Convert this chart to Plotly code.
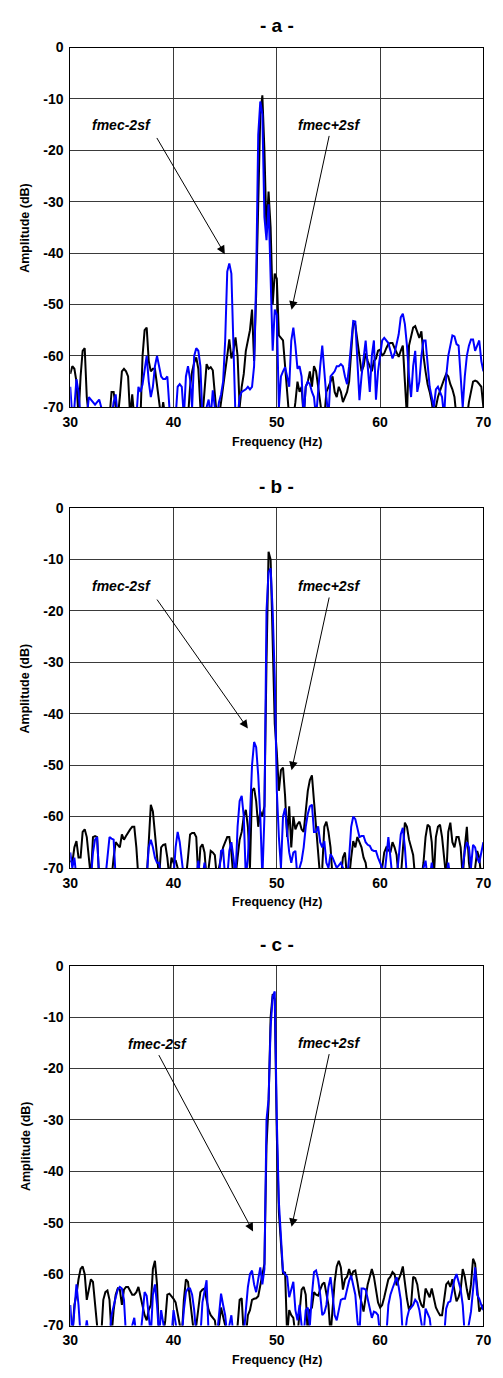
import numpy as np
import plotly.graph_objects as go

# ---------------- data ----------------
freq = np.round(np.arange(30.0, 70.0001, 0.2), 1)  # Hz, 0.2 Hz bins

x_ticks = [30, 40, 50, 60, 70]
x_tick_labels = ["30", "40", "50", "60", "70"]
y_ticks = [0, -10, -20, -30, -40, -50, -60, -70]
y_tick_labels = ["0", "-10", "-20", "-30", "-40", "-50", "-60", "-70"]
panel_titles = ["- a -", "- b -", "- c -"]
label_left = "fmec-2sf"
label_right = "fmec+2sf"

a_black = [
    -63.5, -62, -62.5, -65, -72,
    -64, -59, -58.5, -68, -72,
    -72, -72, -72, -72, -72,
    -72, -72, -72, -72, -72,
    -67, -67, -70, -72, -68,
    -63, -62.5, -63, -64, -72,
    -67.5, -72, -72, -72, -72,
    -60, -55, -54.5, -61, -63,
    -62.5, -62.5, -65.5, -69, -72,
    -69, -72, -72, -72, -72,
    -72, -72, -72, -72, -72,
    -72, -72, -72, -66, -63,
    -61.3, -60.3, -62.5, -70, -72,
    -66, -61.6, -62.5, -62.2, -62.8,
    -67, -72, -72, -69, -66.5,
    -64, -60, -56.8, -60.5, -59,
    -56.4, -60, -70, -66, -63.5,
    -59, -57, -55, -51, -61,
    -48, -30, -13, -9.3, -20,
    -36, -28, -35, -50, -44,
    -45, -56, -56.5, -57, -62,
    -67, -72, -70, -72, -69,
    -65, -67, -66, -72, -66,
    -65, -63, -66, -62, -63,
    -66, -69, -72, -72, -67,
    -66, -65, -64, -67, -68,
    -66, -67, -69, -68, -67,
    -65, -60, -53.5, -54, -57,
    -60, -63, -62, -59.5, -61,
    -62, -63, -61, -60.5, -59,
    -58.8, -60, -59.5, -58.5, -57.7,
    -57.5, -57.5, -58.5, -59.5, -60.2,
    -59, -58, -65, -72, -58,
    -56, -54.5, -54.2, -55.5, -56.5,
    -55.2, -60, -63, -65.5, -67,
    -69, -72, -70, -68, -66.8,
    -65.5, -64.5, -63.5, -64, -65.5,
    -66.5, -68, -72, -72, -72,
    -72, -72, -72, -69, -67,
    -65, -64.8, -65, -65.5, -66,
    -70,
]

a_blue = [
    -66, -72, -70, -64.5, -67,
    -72, -72, -72, -72, -68,
    -68.5, -69, -69.5, -69, -68.5,
    -70, -72, -72, -72, -72,
    -72, -69, -67.5, -72, -72,
    -72, -72, -72, -72, -72,
    -72, -72, -72, -66, -67,
    -65.5, -63, -60, -65, -68,
    -66, -62, -60, -62, -64,
    -64.5, -64.5, -64, -70, -72,
    -72, -72, -66, -65.5, -66,
    -72, -64, -62, -64.5, -70,
    -60, -58.5, -59, -62, -72,
    -72, -70, -68.5, -72, -66.7,
    -70, -72, -69, -67.5, -65,
    -57, -43.6, -42, -44, -58,
    -72, -72, -68, -67, -66.8,
    -66.5, -66, -66.5, -66, -62,
    -45, -17, -10.5, -13, -33,
    -37.5, -30.5, -45, -59, -51,
    -52, -70, -64, -63, -62.2,
    -64, -66, -57, -54.5, -58,
    -62.5, -62, -64, -72, -66,
    -65, -65.5, -67, -68, -72,
    -66, -62, -58, -64, -68,
    -72, -64, -63.5, -63, -62,
    -62, -61.6, -62, -64, -65.5,
    -62, -57, -53.2, -53.3, -60,
    -68.6, -64, -60, -57, -62,
    -67, -60, -57, -68.5, -63,
    -60, -57, -56.5, -57, -57.5,
    -59, -60.5, -59.5, -57.5, -55.8,
    -52.5, -51.8, -53.8, -58, -64,
    -68, -62, -59, -67, -65,
    -60, -57, -57, -61, -66,
    -68, -70, -66.5, -66, -67,
    -68, -72, -64, -60, -57.7,
    -56, -56.2, -57.7, -58, -64,
    -70, -64, -60, -58, -56.8,
    -56.8, -59, -58, -57, -61,
    -63,
]

b_black = [
    -68.6, -69, -66, -64.8, -68,
    -68, -63, -62.5, -64, -69,
    -72, -64, -63.8, -64, -72,
    -72, -72, -72, -72, -72,
    -72, -68, -65, -65.5, -66,
    -63.5, -64.5, -63.8, -63, -62.5,
    -62, -62, -66, -72, -72,
    -72, -72, -72, -65, -57.7,
    -59, -63.5, -68, -72, -66,
    -65.5, -65.4, -68, -72, -68,
    -69, -68.5, -70, -72, -72,
    -72, -72, -68, -63.5, -63.2,
    -63.2, -64, -72, -66, -65.4,
    -67, -72, -70, -66.7, -67,
    -67.5, -72, -70, -68, -66,
    -65, -64, -64, -67, -72,
    -72, -68, -64.5, -63, -60,
    -58.7, -62, -70, -55, -54.5,
    -57, -62, -59, -60, -58,
    -30, -8.5, -10, -25, -42,
    -47.5, -55, -51, -50.5, -56,
    -64, -58, -66, -60, -62.5,
    -61.5, -61, -62.5, -63, -59,
    -55, -52.9, -52, -57, -62,
    -68, -72, -70, -62, -61,
    -63, -66, -72, -72, -72,
    -72, -72, -68, -67, -72,
    -72, -68, -64.8, -66, -64,
    -65, -66, -68, -69, -72,
    -72, -72, -72, -72, -72,
    -72, -70, -67, -66, -66.5,
    -67, -65, -66, -67.5, -72,
    -72, -66, -61.2, -62, -64.5,
    -66, -67.5, -72, -72, -72,
    -72, -69, -64, -61.6, -62,
    -65, -72, -64, -62, -61.6,
    -64, -68, -72, -63, -61.2,
    -65, -66, -64, -64, -66,
    -72, -66, -62, -69, -72,
    -72, -70, -66.7, -68, -72,
    -72,
]

b_blue = [
    -67, -70, -68, -72, -72,
    -72, -72, -72, -72, -72,
    -72, -67, -64.5, -64, -72,
    -72, -72, -72, -68, -64,
    -64.3, -64.5, -72, -72, -72,
    -72, -72, -72, -72, -72,
    -72, -72, -72, -72, -72,
    -72, -72, -72, -66, -64.5,
    -66, -68, -69, -69, -72,
    -72, -72, -72, -72, -72,
    -72, -66, -63, -65, -68,
    -72, -72, -72, -72, -72,
    -72, -72, -68.6, -72, -72,
    -69, -72, -72, -72, -72,
    -72, -72, -72, -66.7, -66.5,
    -72, -72, -66.7, -65, -68,
    -72, -62, -57, -56, -60,
    -72, -68, -60, -50, -45.5,
    -46.5, -52, -60, -72, -60,
    -20, -12.5, -11.7, -20, -33,
    -55, -64, -70, -60, -58.4,
    -63, -67, -69, -67, -66.7,
    -72, -70, -68.6, -66, -62,
    -59.5, -58, -57.7, -63, -63,
    -61.9, -65, -66, -64.8, -69,
    -70, -67.3, -68, -69, -70,
    -69.5, -69, -70, -72, -72,
    -68, -62, -60, -60.5, -62,
    -64, -63.8, -63.8, -65, -65.5,
    -65.7, -66.5, -66.7, -66.7, -68,
    -69, -70, -72, -68, -64,
    -68, -72, -72, -72, -68,
    -63.5, -62.2, -66, -72, -72,
    -72, -72, -72, -72, -72,
    -72, -70, -68.6, -72, -72,
    -69, -72, -72, -72, -72,
    -72, -72, -72, -69, -72,
    -72, -72, -72, -72, -72,
    -70, -66.7, -65, -66, -70,
    -65.5, -66, -68, -69, -67,
    -65,
]

c_black = [
    -70, -72, -66, -64, -61,
    -59, -58.5, -60, -65, -63,
    -61, -61.5, -66, -70, -72,
    -72, -65, -63.5, -63.2, -65,
    -72, -67, -64, -62.8, -63,
    -66, -63, -62.5, -62.5, -63.2,
    -64, -64, -63.5, -62.5, -64.5,
    -66.5, -68, -69, -67, -66,
    -59, -57.4, -62, -72, -72,
    -72, -69, -64, -63.8, -64.2,
    -64.8, -65.5, -67.5, -70, -72,
    -65, -61, -61.5, -65, -69,
    -72, -70, -67, -63.5, -63,
    -62.8, -65, -67, -68, -68.5,
    -69, -72, -70, -66.5, -68,
    -70, -72, -72, -72, -72,
    -72, -70, -65, -64.7, -72,
    -72, -68, -67, -65, -64.8,
    -64.7, -64.3, -62, -59.5, -58,
    -35, -27, -10, -5.5, -6.5,
    -33, -48, -54, -60, -59.6,
    -72, -67, -68, -68.5, -72,
    -72, -68, -63, -62.5, -64,
    -72, -67, -66.5, -63.5, -64,
    -64.2, -63, -62, -61.6, -63.5,
    -66, -72, -67, -61.5, -58.5,
    -57.4, -58.7, -63, -61, -60.5,
    -59, -60.5, -59.5, -59.3, -61.5,
    -64, -65.5, -67.3, -64.5, -62,
    -60.5, -59, -60.5, -63.5, -65.5,
    -66.5, -66, -64.5, -62.5, -61,
    -60.5, -59.6, -60, -62.2, -61,
    -60, -58.5, -62, -64.8, -67,
    -66, -60.5, -60.8, -62, -64.8,
    -66, -66.5, -62.8, -63.8, -64.5,
    -62.8, -65, -66.5, -67.3, -68,
    -68, -64.8, -62, -61.5, -62.5,
    -61, -63, -65.3, -64.5, -63,
    -59, -60.5, -63, -65, -62,
    -57, -58, -62, -67.3, -66.5,
    -66,
]

c_blue = [
    -66, -72, -67, -62, -66,
    -72, -72, -72, -69, -72,
    -72, -72, -72, -72, -72,
    -72, -72, -72, -72, -72,
    -68, -66, -64.5, -63, -62.5,
    -62.8, -65, -72, -72, -72,
    -70, -68.5, -72, -72, -72,
    -68, -63.5, -64.2, -68, -72,
    -64, -62, -66, -72, -67,
    -70, -72, -72, -72, -72,
    -67, -70, -72, -72, -72,
    -67, -63.5, -62.8, -62.8, -64,
    -67, -72, -72, -72, -65.5,
    -63, -61.2, -72, -72, -72,
    -72, -72, -68, -63.8, -66,
    -68, -72, -70, -68, -72,
    -72, -72, -72, -72, -72,
    -67, -62.5, -60, -59.3, -62,
    -63.5, -61, -58.7, -62, -59,
    -30, -26, -12, -6, -5,
    -30, -46, -54, -59.5, -60,
    -60.5, -64.5, -63, -61.5, -67,
    -69, -66, -70, -72, -67,
    -66.5, -70, -64, -59.6, -59.3,
    -61, -64, -68, -67.5, -66,
    -62.5, -60.6, -64, -68, -69,
    -67, -65, -64.8, -64.8, -63,
    -61.3, -60.3, -62, -64, -69,
    -72, -62.8, -62.8, -63, -65,
    -67, -68.5, -67.3, -67.5, -68,
    -72, -72, -72, -72, -66,
    -64, -62.8, -61.5, -60.6, -62.5,
    -65, -72, -72, -68.6, -67,
    -66.5, -66, -65, -65.5, -67,
    -70, -72, -66.7, -67.5, -68.6,
    -72, -72, -72, -72, -72,
    -72, -72, -66.7, -65.5, -65.3,
    -63, -61, -60, -61.5, -63,
    -66, -72, -72, -70, -67.3,
    -63, -58.7, -64, -64.8, -66,
    -67,
]

# arrow geometry: (text_x, text_y, tail_x, tail_y, head_x, head_y) in data units
arrows_left = [
    (35.0, -15.0, 38.3, -17.3, 44.97, -40.2),
    (35.0, -15.2, 38.3, -17.5, 47.2, -42.9),
    (38.4, -15.2, 38.5, -17.1, 47.7, -51.7),
]
arrows_right = [
    (55.1, -15.0, 55.1, -16.9, 51.43, -51.0),
    (55.1, -15.2, 55.1, -17.1, 51.43, -51.0),
    (55.1, -15.0, 55.1, -16.9, 51.43, -50.8),
]

for arr in (a_black, a_blue, b_black, b_blue, c_black, c_blue):
    assert len(arr) == len(freq), len(arr)

# ---------------- layout ----------------
W, H = 503, 1378
X0, X1 = 64.3, 491.0
panels_px = [(40, 404), (506, 870), (969, 1333)]


def py(p):
    return 1 - p / H


FONT = "Liberation Sans, Arial, sans-serif"
tickfont = dict(family=FONT, size=14, color="black", weight="bold")

fig = go.Figure()
series = [(a_black, a_blue), (b_black, b_blue), (c_black, c_blue)]

for i, (blk, blu) in enumerate(series):
    n = "" if i == 0 else str(i + 1)
    xa, ya = "x" + n, "y" + n
    fig.add_trace(go.Scatter(x=freq, y=blk, mode="lines", xaxis=xa, yaxis=ya,
                             line=dict(color="black", width=2), showlegend=False))
    fig.add_trace(go.Scatter(x=freq, y=blu, mode="lines", xaxis=xa, yaxis=ya,
                             line=dict(color="#0000ff", width=2), showlegend=False))
    top, bot = panels_px[i]
    common = dict(showgrid=True, gridcolor="#3a3a3a", gridwidth=1.2,
                  showline=True, linecolor="black", linewidth=1, mirror=True,
                  ticks="", zeroline=False, tickfont=tickfont)
    fig.layout["xaxis" + n] = dict(domain=[X0 / W, X1 / W], anchor=ya, range=[30, 70],
                                   tickvals=x_ticks, ticktext=x_tick_labels,
                                   ticklabelstandoff=2, **common)
    fig.layout["yaxis" + n] = dict(domain=[py(bot), py(top)], anchor=xa, range=[-70, 0],
                                   tickvals=y_ticks, ticktext=y_tick_labels,
                                   ticklabelstandoff=3, **common)

    # panel title
    fig.add_annotation(text=panel_titles[i], xref="paper", yref="paper",
                       x=(X0 + X1) / 2 / W, y=py(top - 22), showarrow=False,
                       font=dict(family=FONT, size=19, color="black", weight="bold"),
                       yanchor="middle", xanchor="center")
    # axis titles
    fig.add_annotation(text="Frequency (Hz)", xref="paper", yref="paper",
                       x=(X0 + X1) / 2 / W, y=py(bot + 35), showarrow=False,
                       font=dict(family=FONT, size=12.5, color="black", weight="bold"),
                       yanchor="middle", xanchor="center")
    fig.add_annotation(text="Amplitude (dB)", xref="paper", yref="paper",
                       x=18 / W, y=py((top + bot) / 2), showarrow=False, textangle=-90,
                       font=dict(family=FONT, size=12.5, color="black", weight="bold"),
                       yanchor="middle", xanchor="center")

    for lbl, (tx, ty, ax_, ay_, hx, hy) in ((label_left, arrows_left[i]),
                                             (label_right, arrows_right[i])):
        fig.add_annotation(text=lbl, xref=xa, yref=ya, x=tx, y=ty, showarrow=False,
                           font=dict(family=FONT, size=14, color="black",
                                     weight="bold", style="italic"))
        fig.add_annotation(text="", xref=xa, yref=ya, x=hx, y=hy, axref=xa, ayref=ya,
                           ax=ax_, ay=ay_, showarrow=True, arrowhead=2, arrowsize=1.7,
                           arrowwidth=1, arrowcolor="black", standoff=0)

fig.update_layout(width=W, height=H, margin=dict(l=0, r=0, t=0, b=0),
                  paper_bgcolor="white", plot_bgcolor="white")

fig.write_html("out.html", config={"displayModeBar": False},
               post_script="document.body.style.margin='0';")
